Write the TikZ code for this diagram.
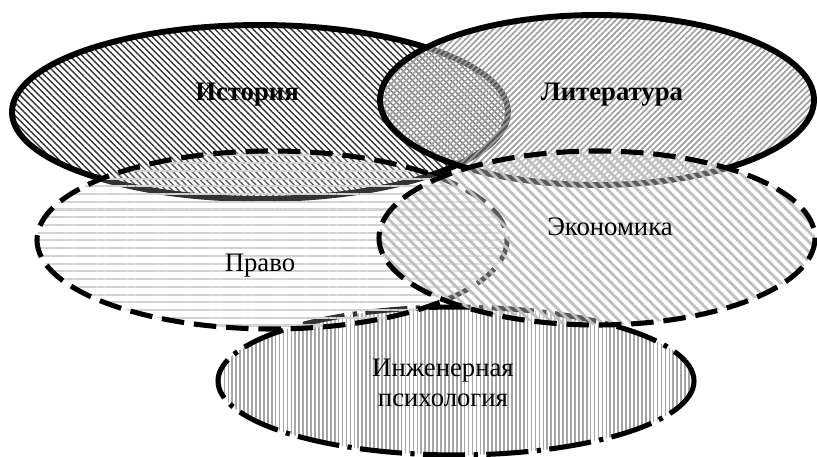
\documentclass[tikz,border=0pt]{standalone}
\usepackage{fontspec}
\setmainfont{Liberation Serif}
\usetikzlibrary{patterns.meta}

\begin{document}
\begin{tikzpicture}[
    x=0.025cm, y=-0.025cm,
    label/.style={font=\fontsize{19}{21}\selectfont, inner sep=0pt},
    solidrim/.style={draw, line width=4.2pt},
    dashrim/.style={draw, line width=3.6pt, dash pattern=on 16pt off 7pt},
    dotrim/.style={draw, line width=3.6pt, dash pattern=on 30pt off 6pt on 3pt off 6pt},
    veil/.style={fill=white, fill opacity=0.35}
]
\useasboundingbox (0,0) rectangle (817,457);

% history
\fill[pattern={Lines[angle=-45, distance=3.2pt, line width=1pt]}, pattern color=black!80]
    (260,112) ellipse [x radius=248, y radius=87];
\draw[solidrim] (260,112) ellipse [x radius=248, y radius=87];

% literature
\fill[veil] (597,100) ellipse [x radius=217, y radius=85];
\fill[pattern={Lines[angle=45, distance=3pt, line width=1.2pt]}, pattern color=gray!75]
    (597,100) ellipse [x radius=217, y radius=85];
\draw[solidrim] (597,100) ellipse [x radius=217, y radius=85];

% engineering psychology
\fill[veil] (456,381) ellipse [x radius=238, y radius=74];
\fill[pattern={Lines[angle=90, distance=2.8pt, line width=1.2pt]}, pattern color=gray!70]
    (456,381) ellipse [x radius=238, y radius=74];
\draw[dotrim] (456,381) ellipse [x radius=238, y radius=74];

% law
\fill[white, fill opacity=0.2] (272,240) ellipse [x radius=235, y radius=89];
\fill[pattern={Lines[angle=0, distance=5.5pt, line width=1.5pt]}, pattern color=gray!35]
    (272,240) ellipse [x radius=235, y radius=89];
\draw[dashrim] (272,240) ellipse [x radius=235, y radius=89];

% economics
\fill[veil] (597,238) ellipse [x radius=218, y radius=87];
\fill[pattern={Lines[angle=-45, distance=5pt, line width=2pt]}, pattern color=gray!50]
    (597,238) ellipse [x radius=218, y radius=87];
\draw[dashrim] (597,238) ellipse [x radius=218, y radius=87];

\node[label, anchor=base, font=\fontsize{19}{21}\selectfont\bfseries] (hist) at (247,101) {История};
\node[label, anchor=base, font=\fontsize{19}{21}\selectfont\bfseries] (lit)  at (612,101) {Литература};
\node[label, anchor=base] (econ) at (610,236) {Экономика};
\node[label, anchor=base] (law)  at (260,272) {Право};
\node[label, align=center] (psy) at (443,383) {Инженерная\\психология};
\end{tikzpicture}
\end{document}
